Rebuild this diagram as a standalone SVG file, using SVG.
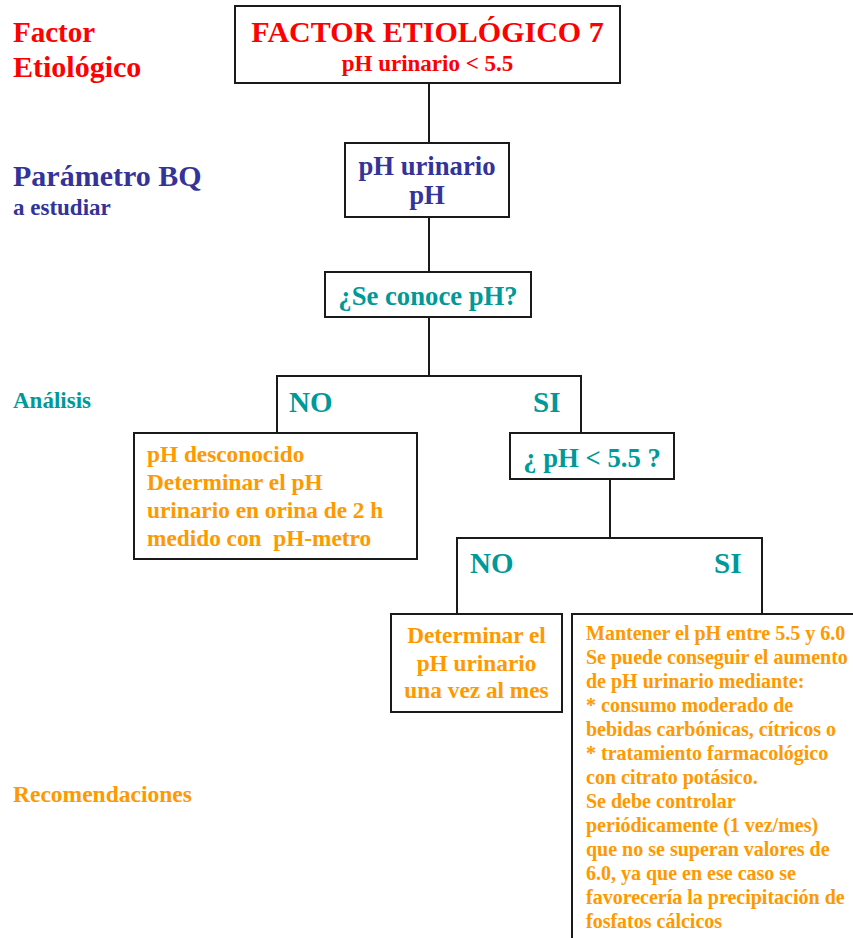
<svg xmlns="http://www.w3.org/2000/svg" width="853" height="938" viewBox="0 0 853 938">
<style>
text{font-family:"Liberation Serif","Times New Roman",serif;font-weight:bold}
.box{fill:#fff;stroke:#1a1a1a;stroke-width:2}
.ln{fill:none;stroke:#1a1a1a;stroke-width:2}
.red{fill:#ff0000}
.blue{fill:#333399}
.teal{fill:#009999}
.org{fill:#ff9900}
.c{text-anchor:middle}
</style>
<rect width="853" height="938" fill="#fff"/>
<g id="labels">
<text class="red" x="13" y="42" font-size="29">Factor</text>
<text class="red" x="13" y="77" font-size="30">Etiológico</text>
<text class="blue" x="13" y="186" font-size="30">Parámetro BQ</text>
<text class="blue" x="13" y="215" font-size="23">a estudiar</text>
<text class="teal" x="13" y="408" font-size="23">Análisis</text>
<text class="org" x="13" y="802" font-size="23.5">Recomendaciones</text>
</g>
<g id="connectors">
<path class="ln" d="M429 83V143"/>
<path class="ln" d="M429 217V272"/>
<path class="ln" d="M429 317V376M277 433V376H581V433"/>
<path class="ln" d="M610 479V538M457 614V538H762V614"/>
</g>
<g id="branch-labels">
<text class="teal" x="289" y="412" font-size="29">NO</text>
<text class="teal" x="533" y="412" font-size="29">SI</text>
<text class="teal" x="470" y="573" font-size="29">NO</text>
<text class="teal" x="714" y="573" font-size="29">SI</text>
</g>
<g id="n-factor">
<rect class="box" x="235" y="6" width="385" height="77"/>
<text class="red c" x="427.5" y="42" font-size="30">FACTOR ETIOLÓGICO 7</text>
<text class="red c" x="427.5" y="71" font-size="23">pH urinario &lt; 5.5</text>
</g>
<g id="n-param">
<rect class="box" x="345" y="143" width="164" height="74"/>
<text class="blue c" x="427" y="175" font-size="26.7">pH urinario</text>
<text class="blue c" x="427" y="204" font-size="26.7">pH</text>
</g>
<g id="n-conoce">
<rect class="box" x="325" y="272" width="206" height="45"/>
<text class="teal c" x="428" y="305" font-size="26.7">¿Se conoce pH?</text>
</g>
<g id="n-desconocido">
<rect class="box" x="134" y="433" width="283" height="126"/>
<text class="org" x="147" y="462" font-size="23.3">pH desconocido</text>
<text class="org" x="147" y="490" font-size="23.3">Determinar el pH</text>
<text class="org" x="147" y="518" font-size="23.3">urinario en orina de 2 h</text>
<text class="org" x="147" y="546" font-size="23.3" style="white-space:pre">medido con  pH-metro</text>
</g>
<g id="n-ph55">
<rect class="box" x="510" y="433" width="164" height="46"/>
<text class="teal c" x="592" y="467" font-size="26.7">¿ pH &lt; 5.5 ?</text>
</g>
<g id="n-mes">
<rect class="box" x="391" y="614" width="171" height="98"/>
<text class="org c" x="476.5" y="643" font-size="23.3">Determinar el</text>
<text class="org c" x="476.5" y="671" font-size="23.3">pH urinario</text>
<text class="org c" x="476.5" y="698" font-size="23.3">una vez al mes</text>
</g>
<g id="n-mantener">
<path class="ln" d="M853 614H572V938"/>
<text class="org" x="586" y="640" font-size="20">Mantener el pH entre 5.5 y 6.0</text>
<text class="org" x="586" y="664" font-size="20">Se puede conseguir el aumento</text>
<text class="org" x="586" y="688" font-size="20">de pH urinario mediante:</text>
<text class="org" x="586" y="712" font-size="20">* consumo moderado de</text>
<text class="org" x="586" y="736" font-size="20">bebidas carbónicas, cítricos o</text>
<text class="org" x="586" y="760" font-size="20">* tratamiento farmacológico</text>
<text class="org" x="586" y="784" font-size="20">con citrato potásico.</text>
<text class="org" x="586" y="808" font-size="20">Se debe controlar</text>
<text class="org" x="586" y="832" font-size="20">periódicamente (1 vez/mes)</text>
<text class="org" x="586" y="856" font-size="20">que no se superan valores de</text>
<text class="org" x="586" y="880" font-size="20">6.0, ya que en ese caso se</text>
<text class="org" x="586" y="904" font-size="20">favorecería la precipitación de</text>
<text class="org" x="586" y="928" font-size="20">fosfatos cálcicos</text>
</g>
</svg>
